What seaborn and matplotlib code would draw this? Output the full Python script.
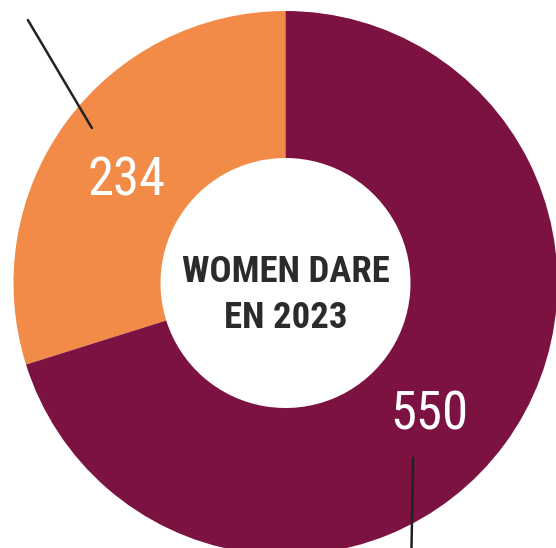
import numpy as np
import matplotlib.pyplot as plt
import seaborn as sns

# data
labels = ["Orange", "Maroon"]
values = [234, 550]
colors = ["#F28B47", "#7C1242"]
center_lines = ["WOMEN DARE", "EN 2023"]

sns.set_theme(style="white")
plt.rcParams["font.family"] = ["Roboto Condensed", "DejaVu Sans"]

fig = plt.figure(figsize=(5.56, 5.48), dpi=100)
ax = fig.add_axes([0, 0, 1, 1])

cx, cy = 285.5, 265
R = 272
wedges, _ = ax.pie(values, colors=colors, startangle=90, counterclock=True,
                   radius=R, center=(cx, cy), frame=True,
                   wedgeprops=dict(width=R - 125, linewidth=0))
ax.set_xlim(0, 556)
ax.set_ylim(0, 548)
ax.set_aspect("equal")
ax.axis("off")


def polar(ang, r):
    a = np.deg2rad(ang)
    return cx + r * np.cos(a), cy + r * np.sin(a)


mids = [(w.theta1 + w.theta2) / 2 for w in wedges]
label_shift = [2.4, -5]
for mid, sh, v in zip(mids, label_shift, values):
    x, y = polar(mid + sh, 192)
    ax.text(x, y, str(v), color="white", fontsize=38, ha="center",
            va="center_baseline")

# leader lines
x0, y0 = polar(mids[0] - 2.4, 248)
ax.plot([x0, x0 - 64], [y0, y0 + 108], color="#222222", lw=1.8)
x1, y1 = polar(mids[1] - 17.6, 216.5)
ax.plot([x1, x1 - 2], [y1, y1 - 110], color="#222222", lw=1.8)

ax.text(cx, cy + 15.5, center_lines[0], color="#2B2B2B", fontsize=26.5,
        fontweight="bold", ha="center", va="center_baseline")
ax.text(cx, cy - 30.5, center_lines[1], color="#2B2B2B", fontsize=26.5,
        fontweight="bold", ha="center", va="center_baseline")

fig.savefig("out.png", dpi=100)
